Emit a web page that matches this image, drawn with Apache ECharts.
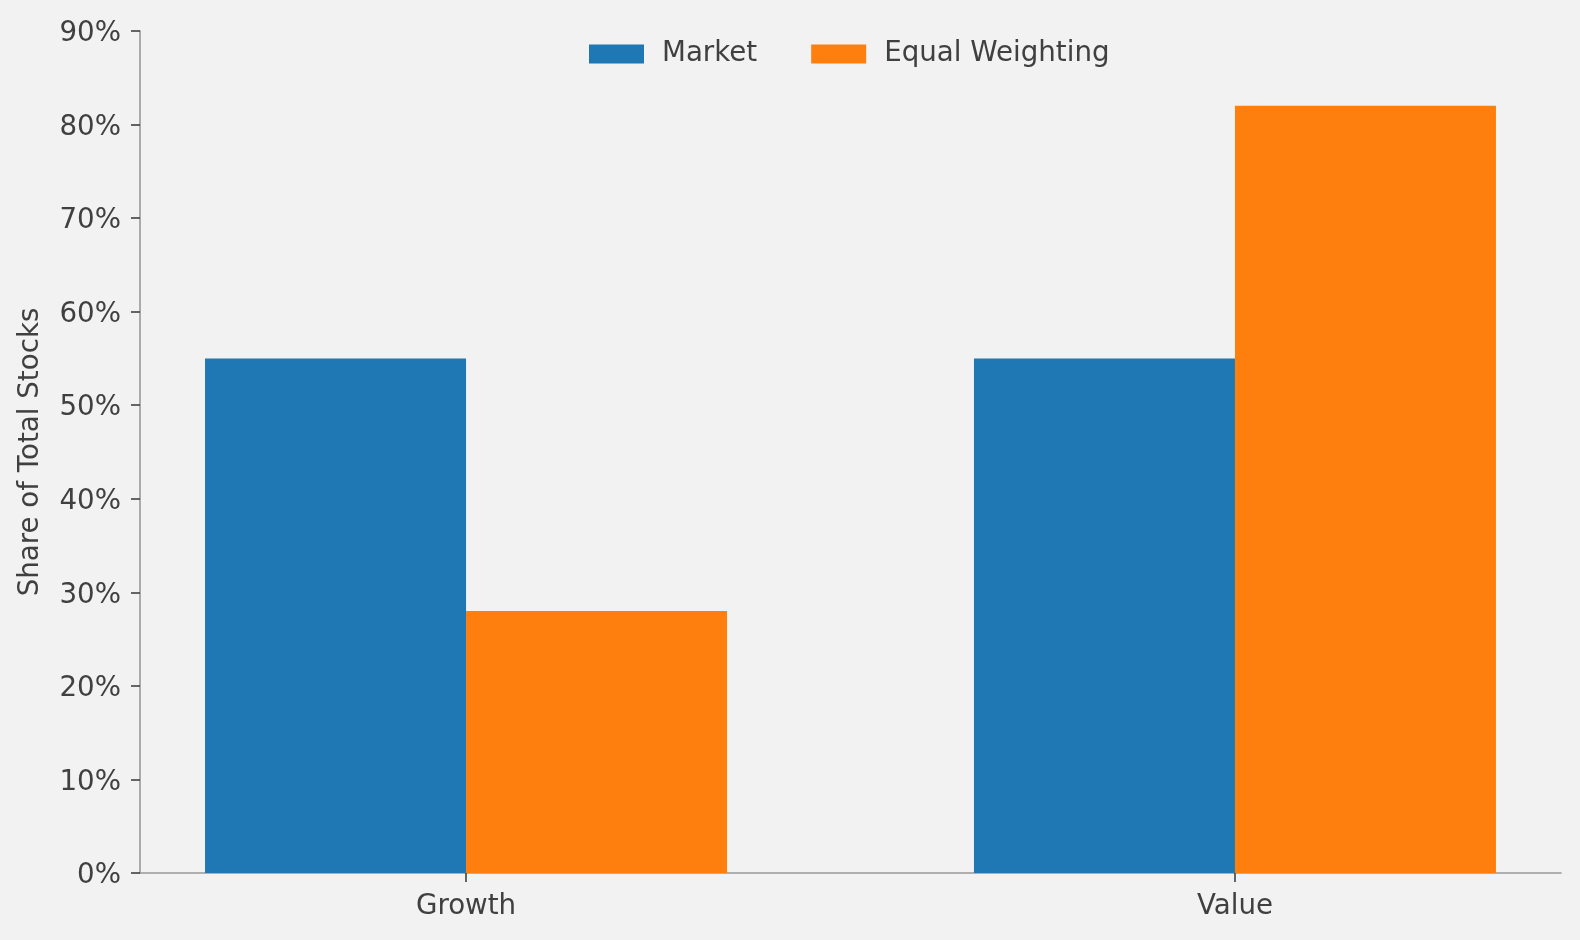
<!DOCTYPE html>
<html>
<head>
<meta charset="utf-8">
<script src="https://cdn.jsdelivr.net/npm/echarts@6/dist/echarts.min.js"></script>
<style>
html,body{margin:0;padding:0;background:#f2f2f2;}
#chart{width:1580px;height:940px;}
</style>
</head>
<body>
<div id="chart"></div>
<script>
const categories = ['Growth', 'Value'];
const marketValues = [55, 55];
const equalValues = [28, 82];
const yTicks = [0, 10, 20, 30, 40, 50, 60, 70, 80, 90];

const FONT = 'DejaVu Sans';
const TXT = '#404040';
const FS = 27.7;

const chart = echarts.init(document.getElementById('chart'));
chart.setOption({
  backgroundColor: '#f2f2f2',
  animation: false,
  textStyle: { fontFamily: FONT },
  legend: {
    left: 584,
    top: 35,
    itemWidth: 55,
    itemHeight: 19,
    itemGap: 54,
    icon: 'rect',
    textStyle: { fontFamily: FONT, fontSize: FS, color: TXT, padding: [0, 0, 0, 13] },
    data: ['Market', 'Equal Weighting']
  },
  grid: { left: 140, right: 19, top: 31, bottom: 67 },
  xAxis: {
    type: 'value',
    min: -0.424,
    max: 1.424,
    splitLine: { show: false },
    axisLine: { show: true, onZero: false, lineStyle: { color: '#999999', width: 1.6 } },
    axisTick: { show: true, customValues: [0, 1], length: 9, lineStyle: { color: TXT, width: 1.6 } },
    axisLabel: {
      customValues: [0, 1],
      formatter: v => categories[Math.round(v)],
      fontFamily: FONT, fontSize: FS, color: TXT, margin: 20
    }
  },
  yAxis: {
    type: 'value',
    min: yTicks[0],
    max: yTicks[yTicks.length - 1],
    interval: 10,
    name: 'Share of Total Stocks',
    nameLocation: 'middle',
    nameGap: 95,
    nameTextStyle: { fontFamily: FONT, fontSize: FS, color: TXT },
    splitLine: { show: false },
    axisLine: { show: true, onZero: false, lineStyle: { color: '#999999', width: 1.6 } },
    axisTick: { show: true, length: 9, lineStyle: { color: TXT, width: 1.6 } },
    axisLabel: {
      formatter: '{value}%', fontFamily: FONT, fontSize: FS, color: TXT, margin: 19,
      verticalAlign: 'top', lineHeight: 6
    }
  },
  series: [
    {
      name: 'Market', type: 'bar', barWidth: 261, barGap: '0%',
      itemStyle: { color: '#1f77b4' },
      data: marketValues.map((v, i) => [i, v])
    },
    {
      name: 'Equal Weighting', type: 'bar', barWidth: 261, barGap: '0%',
      itemStyle: { color: '#ff7f0e' },
      data: equalValues.map((v, i) => [i, v])
    }
  ]
});
</script>
</body>
</html>
